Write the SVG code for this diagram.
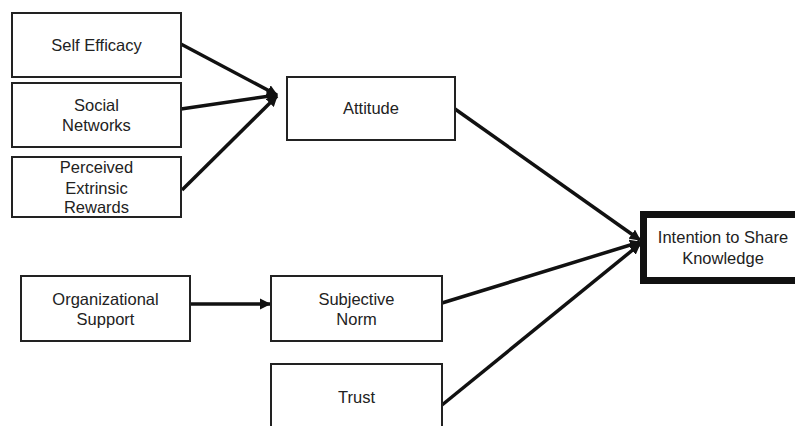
<svg xmlns="http://www.w3.org/2000/svg" width="795" height="426" viewBox="0 0 795 426">
<defs>
<style>
.box{fill:#fff;stroke:#222;stroke-width:2}
.bold{fill:#fff;stroke:#111;stroke-width:7}
.lbl{font-family:"Liberation Sans",Arial,sans-serif;font-size:16.5px;fill:#222;text-anchor:middle}
.con{stroke:#111;stroke-width:3.5;fill:none}
</style>
<marker id="ah" viewBox="0 0 10 10" refX="9" refY="5" markerWidth="3.2" markerHeight="3.2" orient="auto" markerUnits="strokeWidth">
<path d="M0,0 L10,5 L0,10 z" fill="#111"/>
</marker>
</defs>
<rect width="795" height="426" fill="#fff"/>
<g id="connectors">
<line class="con" x1="179" y1="43" x2="277" y2="95" marker-end="url(#ah)"/>
<line class="con" x1="181" y1="109" x2="277" y2="95" marker-end="url(#ah)"/>
<line class="con" x1="182" y1="190" x2="277" y2="96" marker-end="url(#ah)"/>
<line class="con" x1="190" y1="304" x2="270" y2="304" marker-end="url(#ah)"/>
<line class="con" x1="455" y1="109" x2="640" y2="240" marker-end="url(#ah)"/>
<line class="con" x1="442" y1="303" x2="640" y2="242" marker-end="url(#ah)"/>
<line class="con" x1="442" y1="405" x2="640" y2="244" marker-end="url(#ah)"/>
</g>
<g id="self-efficacy">
<rect class="box" x="12" y="13" width="169" height="64"/>
<text class="lbl" x="96.5" y="51">Self Efficacy</text>
</g>
<g id="social-networks">
<rect class="box" x="12" y="83" width="169" height="64"/>
<text class="lbl" x="96.5" y="111">Social</text>
<text class="lbl" x="96.5" y="131">Networks</text>
</g>
<g id="perceived-extrinsic-rewards">
<rect class="box" x="12" y="157" width="169" height="60"/>
<text class="lbl" x="96.5" y="173">Perceived</text>
<text class="lbl" x="96.5" y="194">Extrinsic</text>
<text class="lbl" x="96.5" y="213">Rewards</text>
</g>
<g id="attitude">
<rect class="box" x="287" y="77" width="168" height="63"/>
<text class="lbl" x="371" y="114">Attitude</text>
</g>
<g id="organizational-support">
<rect class="box" x="21" y="276" width="169" height="65"/>
<text class="lbl" x="105.5" y="305">Organizational</text>
<text class="lbl" x="105.5" y="325">Support</text>
</g>
<g id="subjective-norm">
<rect class="box" x="271" y="276" width="171" height="65"/>
<text class="lbl" x="356.5" y="305">Subjective</text>
<text class="lbl" x="356.5" y="325">Norm</text>
</g>
<g id="trust">
<rect class="box" x="271" y="364" width="171" height="80"/>
<text class="lbl" x="356.5" y="403">Trust</text>
</g>
<g id="intention-to-share-knowledge">
<rect class="bold" x="643.5" y="214.5" width="170" height="66"/>
<text class="lbl" x="723" y="243">Intention to Share</text>
<text class="lbl" x="723" y="264">Knowledge</text>
</g>
</svg>
